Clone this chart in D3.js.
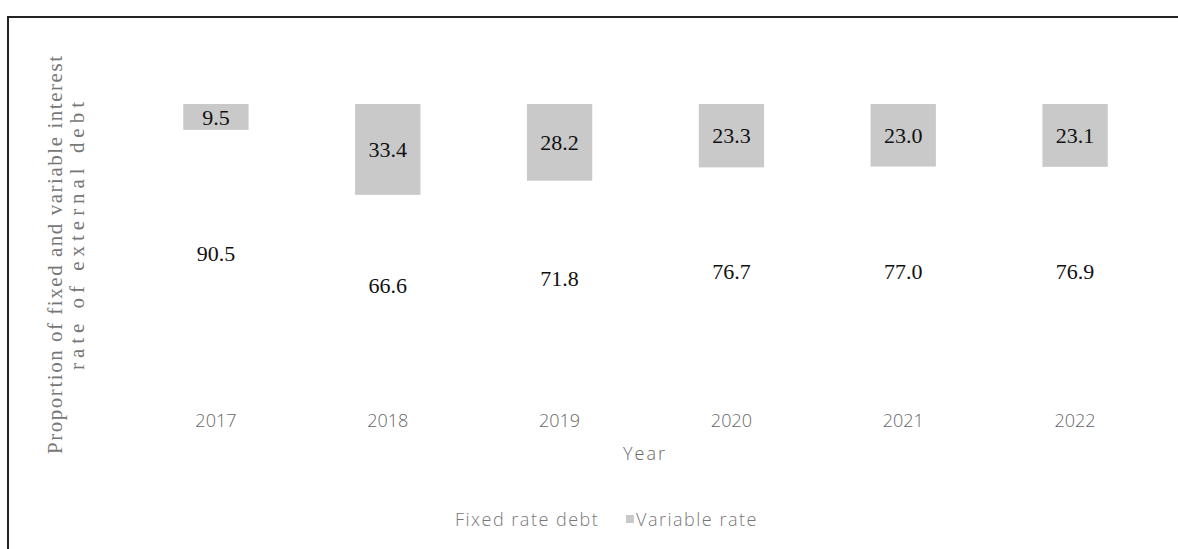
<!DOCTYPE html>
<html>
<head>
<meta charset="utf-8">
<script src="https://cdn.jsdelivr.net/npm/d3@7"></script>
<style>
  body { margin: 0; background: white; }
</style>
</head>
<body>
<div id="vis"></div>
<script>
// chart data
const years = ["2017", "2018", "2019", "2020", "2021", "2022"];
const fixedRate = [90.5, 66.6, 71.8, 76.7, 77.0, 76.9];
const variableRate = [9.5, 33.4, 28.2, 23.3, 23.0, 23.1];
const seriesNames = ["Fixed rate debt", "Variable rate"];

let width = 1178;
let height = 549;

let svg = d3.select("#vis")
  .append("svg")
  .attr("width", width)
  .attr("height", height)
  .style("background", "white");

// outer frame (right and bottom edges run off the page)
svg.append("rect")
  .attr("x", 8)
  .attr("y", 17)
  .attr("width", 1300)
  .attr("height", 700)
  .attr("fill", "none")
  .attr("stroke", "#222")
  .attr("stroke-width", 2);

// stacked rows
let rows = years.map((y, i) => ({ year: y, fixed: fixedRate[i], variable: variableRate[i] }));
let stack = d3.stack().keys(["fixed", "variable"]);
let series = stack(rows);

// scales
let xScale = d3.scaleBand()
  .domain(years)
  .range([130, 1161])
  .paddingInner(0.62)
  .paddingOuter(0.31);

let yScale = d3.scaleLinear()
  .domain([0, 100])
  .range([376, 104]);

let colors = d3.scaleOrdinal()
  .domain(["fixed", "variable"])
  .range(["#ffffff", "#c9c9c9"]);

// bars
let groups = svg.selectAll("g.series")
  .data(series)
  .enter()
  .append("g")
  .attr("class", "series")
  .attr("fill", d => colors(d.key));

groups.selectAll("rect")
  .data(d => d)
  .enter()
  .append("rect")
  .attr("x", d => xScale(d.data.year))
  .attr("y", d => yScale(d[1]))
  .attr("width", xScale.bandwidth())
  .attr("height", d => yScale(d[0]) - yScale(d[1]));

// value labels
groups.selectAll("text")
  .data(d => d.map(v => ({ v: v, key: d.key })))
  .enter()
  .append("text")
  .attr("x", d => xScale(d.v.data.year) + xScale.bandwidth() / 2)
  .attr("y", d => (yScale(d.v[0]) + yScale(d.v[1])) / 2)
  .attr("dy", "0.35em")
  .attr("text-anchor", "middle")
  .style("font-family", "'Liberation Serif', 'DejaVu Serif', serif")
  .style("font-size", "22px")
  .style("fill", "#111")
  .text(d => d.v.data[d.key].toFixed(1));

// x axis (labels only)
let xAxis = svg.append("g")
  .attr("transform", "translate(0, 411)")
  .call(d3.axisBottom(xScale).tickSize(0));
xAxis.select(".domain").remove();
xAxis.selectAll("text")
  .style("font-family", "'Open Sans', sans-serif")
  .style("font-weight", 300)
  .style("font-size", "18px")
  .style("fill", "#666");

// axis titles
svg.append("text")
  .attr("x", 645)
  .attr("y", 460)
  .attr("text-anchor", "middle")
  .style("font-family", "'Open Sans', sans-serif")
  .style("font-weight", 300)
  .style("font-size", "18px")
  .style("letter-spacing", "2px")
  .style("fill", "#666")
  .text("Year");

svg.append("text")
  .attr("transform", "translate(62, 255) rotate(-90)")
  .attr("text-anchor", "middle")
  .attr("textLength", 398)
  .attr("lengthAdjust", "spacing")
  .style("font-family", "'Liberation Serif', serif")
  .style("font-size", "21px")
  .style("fill", "#777")
  .text("Proportion of fixed and variable interest");

svg.append("text")
  .attr("transform", "translate(84, 236) rotate(-90)")
  .attr("text-anchor", "middle")
  .attr("textLength", 268)
  .attr("lengthAdjust", "spacing")
  .style("font-family", "'Liberation Serif', serif")
  .style("font-size", "21px")
  .style("fill", "#777")
  .text("rate of external debt");

// legend
let legendX = [445, 626];
let legend = svg.selectAll("g.legend")
  .data(seriesNames)
  .enter()
  .append("g")
  .attr("class", "legend")
  .attr("transform", (d, i) => `translate(${legendX[i]}, 526)`);

legend.append("rect")
  .attr("x", 0)
  .attr("y", -11)
  .attr("width", 8)
  .attr("height", 8)
  .attr("fill", (d, i) => colors.range()[i]);

legend.append("text")
  .attr("x", 10)
  .attr("y", 0)
  .style("font-family", "'Open Sans', sans-serif")
  .style("font-weight", 300)
  .style("font-size", "18px")
  .style("letter-spacing", "1.5px")
  .style("fill", "#777")
  .text(d => d);
</script>
</body>
</html>
